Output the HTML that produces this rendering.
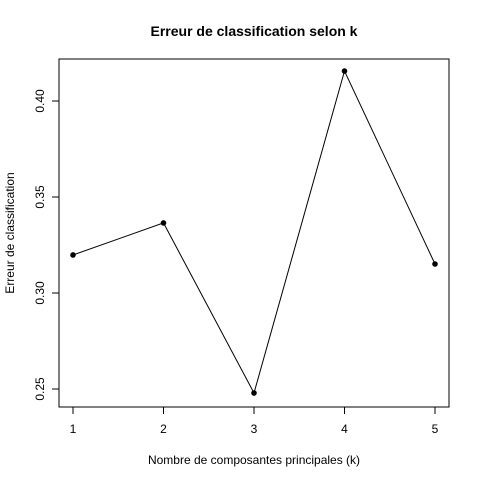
<!DOCTYPE html>
<html><head><meta charset="utf-8"><style>body{margin:0;background:#fff}svg{display:block}</style></head>
<body>
<svg id="c" width="480" height="480" xmlns="http://www.w3.org/2000/svg" font-family="Liberation Sans, Arial, sans-serif">
<rect width="480" height="480" fill="#fff"/>
<text x="254" y="36" text-anchor="middle" font-size="14" font-weight="bold">Erreur de classification selon k</text>
<rect x="59" y="59" width="390" height="348" fill="none" stroke="#000"/>
<text x="254" y="464" text-anchor="middle" font-size="12">Nombre de composantes principales (k)</text>
<text transform="translate(14,233) rotate(-90)" text-anchor="middle" font-size="12">Erreur de classification</text>
<g id="g"></g>
</svg>
<script>
const categories=[1,2,3,4,5];
const errors=[0.3198,0.3365,0.2479,0.4156,0.3151];
const yTicks=[0.25,0.30,0.35,0.40];
const yLabels=["0.25","0.30","0.35","0.40"];
const xs=k=>73+(k-1)*90.5;
const ys=v=>389-(v-0.25)*1920;
const ns="http://www.w3.org/2000/svg";
const g=document.getElementById('g');
function mk(t,a){const e=document.createElementNS(ns,t);for(const k in a)e.setAttribute(k,a[k]);g.appendChild(e);return e;}
categories.forEach(k=>{
 const t=mk('line',{x1:xs(k),x2:xs(k),y1:407,y2:414,stroke:'#000'});
 
 
 const l=mk('text',{x:xs(k),y:433,'text-anchor':'middle','font-size':12});
 l.textContent=k;
 
 
});
mk('line',{x1:73,x2:435,y1:407,y2:407,stroke:'#000'});
yTicks.forEach((v,i)=>{
 const t=mk('line',{x1:52,x2:59,y1:ys(v),y2:ys(v),stroke:'#000'});
 
 
 const l=mk('text',{transform:`translate(44,${ys(v)}) rotate(-90)`,'text-anchor':'middle','font-size':12});
 l.textContent=yLabels[i];
 
 
});
const line=mk('polyline',{points:categories.map((k,i)=>xs(k)+','+ys(errors[i])).join(' '),fill:'none',stroke:'#000'});


categories.forEach((k,i)=>{
 const p=mk('circle',{cx:xs(k),cy:ys(errors[i]),r:2.8,fill:'#000'});
 
 
});
</script>
</body></html>
